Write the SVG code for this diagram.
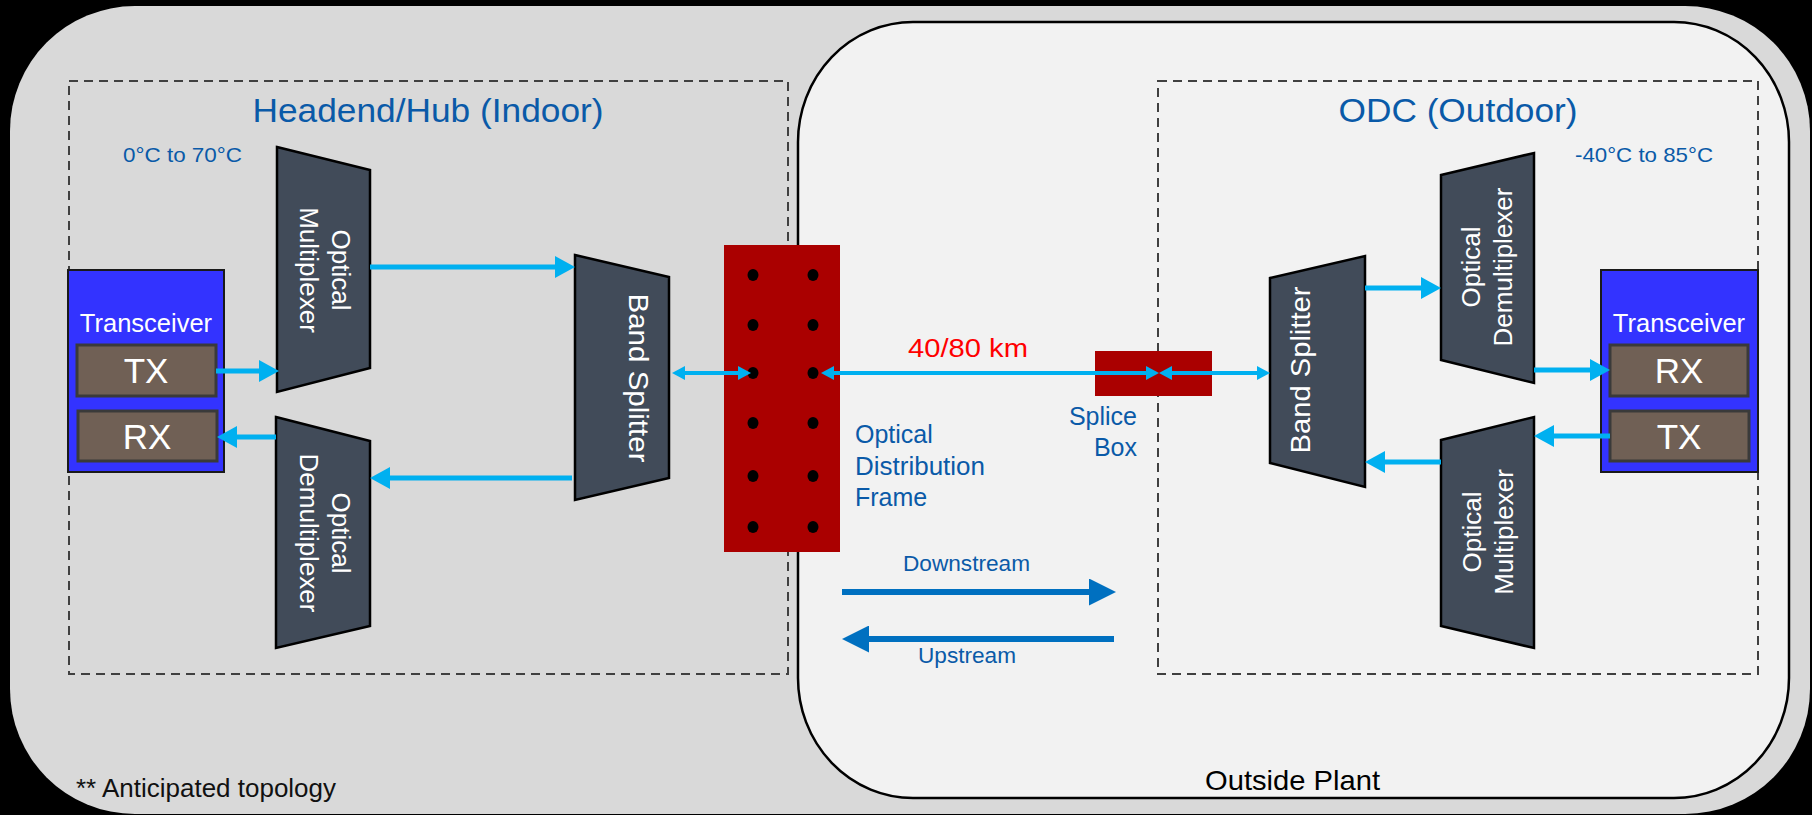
<svg xmlns="http://www.w3.org/2000/svg" width="1812" height="815" viewBox="0 0 1812 815">
  <style>
    text { font-family: "Liberation Sans", Arial, sans-serif; }
    .trap { fill: #414b59; stroke: #000; stroke-width: 2.5; stroke-linejoin: miter; }
    .dash { fill: none; stroke: #404040; stroke-width: 2; stroke-dasharray: 9 6; }
    .xcvr { fill: #3333ff; stroke: #1a1a1a; stroke-width: 2; }
    .port { fill: #706055; stroke: #3a3a3a; stroke-width: 3; }
    .red { fill: #aa0000; }
    .dot { fill: #000; }
    .wt { fill: #fff; }
    .blue { fill: #0a5aa8; }
    .cy { fill: none; stroke: #00b0f0; stroke-width: 5; }
    .cys { fill: none; stroke: #00b0f0; stroke-width: 4; }
    .dir { fill: none; stroke: #0070c0; stroke-width: 6; }
  </style>
  <defs>
    <marker id="hC" markerUnits="userSpaceOnUse" markerWidth="20" markerHeight="22" refX="6" refY="11" orient="auto">
      <path d="M0,0 L20,11 L0,22 z" fill="#00b0f0"/>
    </marker>
    <marker id="hS" markerUnits="userSpaceOnUse" markerWidth="13" markerHeight="14" refX="4" refY="7" orient="auto-start-reverse">
      <path d="M0,0 L13,7 L0,14 z" fill="#00b0f0"/>
    </marker>
    <marker id="hD" markerUnits="userSpaceOnUse" markerWidth="27" markerHeight="27" refX="8" refY="13.5" orient="auto">
      <path d="M0,0 L27,13.5 L0,27 z" fill="#0070c0"/>
    </marker>
  </defs>

  <rect x="0" y="0" width="1812" height="815" fill="#000"/>
  <g id="background">
    <rect x="10" y="6" width="1800" height="808" rx="125" ry="125" fill="#d9d9d9"/>
    <rect id="outside-plant" x="798" y="22" width="991" height="776" rx="115" ry="120" fill="#f2f2f2" stroke="#000" stroke-width="2.5"/>
    <rect id="headend-box" class="dash" x="69" y="81" width="719" height="593"/>
    <rect id="odc-box" class="dash" x="1158" y="81" width="600" height="593"/>
  </g>

  <g id="labels">
    <text class="blue" x="428" y="122" font-size="34" text-anchor="middle" textLength="351" lengthAdjust="spacingAndGlyphs">Headend/Hub (Indoor)</text>
    <text class="blue" x="1458" y="122" font-size="34" text-anchor="middle" textLength="239" lengthAdjust="spacingAndGlyphs">ODC (Outdoor)</text>
    <text class="blue" x="123" y="162" font-size="21" textLength="119" lengthAdjust="spacingAndGlyphs">0°C to 70°C</text>
    <text class="blue" x="1575" y="162" font-size="21" textLength="138" lengthAdjust="spacingAndGlyphs">-40°C to 85°C</text>
    <text x="968" y="357" font-size="26" fill="#ff0000" text-anchor="middle" textLength="120" lengthAdjust="spacingAndGlyphs">40/80 km</text>
    <text class="blue" font-size="25" x="855" y="443">Optical</text>
    <text class="blue" font-size="25" x="855" y="475" textLength="130" lengthAdjust="spacingAndGlyphs">Distribution</text>
    <text class="blue" font-size="25" x="855" y="506">Frame</text>
    <text class="blue" font-size="25" x="1137" y="425" text-anchor="end">Splice</text>
    <text class="blue" font-size="25" x="1137" y="456" text-anchor="end">Box</text>
    <text font-size="22.5" x="903" y="571" fill="#0a5aa8" textLength="127" lengthAdjust="spacingAndGlyphs">Downstream</text>
    <text font-size="22.5" x="918" y="663" fill="#0a5aa8" textLength="98" lengthAdjust="spacingAndGlyphs">Upstream</text>
    <text font-size="28" x="1205" y="790" fill="#000" textLength="175" lengthAdjust="spacingAndGlyphs">Outside Plant</text>
    <text font-size="25" x="76" y="797" fill="#111" textLength="260" lengthAdjust="spacingAndGlyphs">** Anticipated topology</text>
  </g>

  <g id="odf">
    <rect class="red" x="724" y="245" width="116" height="307"/>
    <g class="dot">
      <ellipse cx="753" cy="275" rx="5.5" ry="6"/><ellipse cx="813" cy="275" rx="5.5" ry="6"/>
      <ellipse cx="753" cy="325" rx="5.5" ry="6"/><ellipse cx="813" cy="325" rx="5.5" ry="6"/>
      <ellipse cx="753" cy="373" rx="5.5" ry="6"/><ellipse cx="813" cy="373" rx="5.5" ry="6"/>
      <ellipse cx="753" cy="423" rx="5.5" ry="6"/><ellipse cx="813" cy="423" rx="5.5" ry="6"/>
      <ellipse cx="753" cy="476" rx="5.5" ry="6"/><ellipse cx="813" cy="476" rx="5.5" ry="6"/>
      <ellipse cx="753" cy="527" rx="5.5" ry="6"/><ellipse cx="813" cy="527" rx="5.5" ry="6"/>
    </g>
  </g>

  <g id="splice-box">
    <rect class="red" x="1095" y="351" width="117" height="45"/>
  </g>

  <g id="transceiver-left">
    <rect class="xcvr" x="68" y="270" width="156" height="202"/>
    <text class="wt" x="146" y="332" font-size="25.5" text-anchor="middle">Transceiver</text>
    <rect class="port" x="77" y="345" width="139" height="51"/>
    <text class="wt" x="146" y="383" font-size="35" text-anchor="middle">TX</text>
    <rect class="port" x="78" y="411" width="139" height="50"/>
    <text class="wt" x="147" y="449" font-size="35" text-anchor="middle">RX</text>
  </g>

  <g id="mux-left">
    <polygon class="trap" points="277,147 370,170 370,368 277,392"/>
    <text class="wt" font-size="26" text-anchor="middle" transform="translate(332,270) rotate(90)"><tspan x="0" y="0">Optical</tspan><tspan x="0" y="32">Multiplexer</tspan></text>
  </g>

  <g id="demux-left">
    <polygon class="trap" points="276,417 370,441 370,626 276,648"/>
    <text class="wt" font-size="26" text-anchor="middle" transform="translate(332,533) rotate(90)"><tspan x="0" y="0">Optical</tspan><tspan x="0" y="32">Demultiplexer</tspan></text>
  </g>

  <g id="band-splitter-left">
    <polygon class="trap" points="575,255 669,277 669,478 575,500"/>
    <text class="wt" font-size="28" text-anchor="middle" transform="translate(629,378) rotate(90)" textLength="169" lengthAdjust="spacingAndGlyphs">Band Splitter</text>
  </g>

  <g id="band-splitter-right">
    <polygon class="trap" points="1270,278 1365,256 1365,487 1270,463"/>
    <text class="wt" font-size="28" text-anchor="middle" transform="translate(1310,370) rotate(-90)" textLength="167" lengthAdjust="spacingAndGlyphs">Band Splitter</text>
  </g>

  <g id="demux-right">
    <polygon class="trap" points="1441,175 1534,153 1534,383 1441,360"/>
    <text class="wt" font-size="26" text-anchor="middle" transform="translate(1480,267) rotate(-90)"><tspan x="0" y="0">Optical</tspan><tspan x="0" y="32">Demultiplexer</tspan></text>
  </g>

  <g id="mux-right">
    <polygon class="trap" points="1441,440 1534,417 1534,648 1441,626"/>
    <text class="wt" font-size="26" text-anchor="middle" transform="translate(1481,532) rotate(-90)"><tspan x="0" y="0">Optical</tspan><tspan x="0" y="32">Multiplexer</tspan></text>
  </g>

  <g id="transceiver-right">
    <rect class="xcvr" x="1601" y="270" width="157" height="202"/>
    <text class="wt" x="1679" y="332" font-size="25.5" text-anchor="middle">Transceiver</text>
    <rect class="port" x="1610" y="345" width="138" height="51"/>
    <text class="wt" x="1679" y="383" font-size="35" text-anchor="middle">RX</text>
    <rect class="port" x="1610" y="411" width="139" height="50"/>
    <text class="wt" x="1679" y="449" font-size="35" text-anchor="middle">TX</text>
  </g>

  <g id="connectors">
    <path class="cy" d="M216,371 H265" marker-end="url(#hC)"/>
    <path class="cy" d="M370,267 H561" marker-end="url(#hC)"/>
    <path class="cy" d="M572,478 H384" marker-end="url(#hC)"/>
    <path class="cy" d="M276,437 H231" marker-end="url(#hC)"/>
    <path class="cys" d="M681,373 H742" marker-start="url(#hS)" marker-end="url(#hS)"/>
    <path class="cys" d="M830,373 H1150" marker-start="url(#hS)" marker-end="url(#hS)"/>
    <path class="cys" d="M1168,373 H1261" marker-start="url(#hS)" marker-end="url(#hS)"/>
    <path class="cy" d="M1365,288 H1427" marker-end="url(#hC)"/>
    <path class="cy" d="M1534,370 H1596" marker-end="url(#hC)"/>
    <path class="cy" d="M1610,436 H1548" marker-end="url(#hC)"/>
    <path class="cy" d="M1441,462 H1379" marker-end="url(#hC)"/>
    <path class="dir" d="M842,592 H1097" marker-end="url(#hD)"/>
    <path class="dir" d="M1114,639 H861" marker-end="url(#hD)"/>
  </g>
</svg>
